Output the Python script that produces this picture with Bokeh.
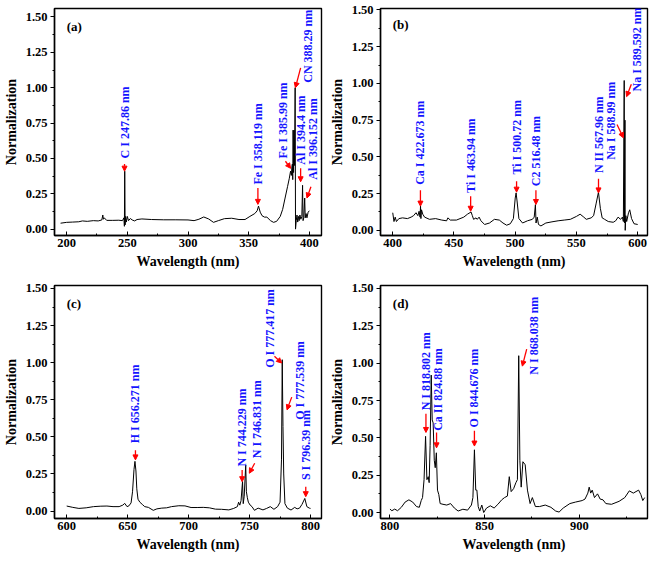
import math
from bokeh.plotting import figure
from bokeh.layouts import gridplot
from bokeh.models import (Arrow, NormalHead, SingleIntervalTicker, NumeralTickFormatter,
                          Range1d, ColumnDataSource)
from bokeh.core.properties import value
from bokeh.embed import file_html
from bokeh.resources import INLINE

# ---------------- data ----------------
wl_a = [195, 200, 205, 210, 213, 217, 222, 226, 229, 229.8, 230.3, 231, 233, 238, 243, 246,
        247.2, 247.6, 247.86, 248.2, 248.6, 249.2, 250, 251, 252.5, 254, 256, 258, 262, 270,
        280, 290, 300, 305, 309, 313, 317, 321, 325, 330, 336, 342, 347, 351, 355, 357, 358.1,
        359.5, 361, 363, 365, 368, 370.5, 373, 376, 378, 380, 382, 383.5, 384.5, 385.2, 385.6,
        386.0, 386.3, 386.6, 387.0, 387.4, 387.8, 388.29, 388.6, 389.2, 389.8, 390.4, 391,
        391.6, 392.2, 393, 393.8, 394.4, 394.8, 395.4, 396.152, 396.6, 397.3, 398, 399, 400]
int_a = [0.042, 0.048, 0.05, 0.052, 0.058, 0.055, 0.06, 0.058, 0.065, 0.10, 0.07, 0.08, 0.062,
         0.062, 0.063, 0.06, 0.08, 0.02, 0.41, 0.03, 0.09, 0.05, 0.09, 0.06, 0.075, 0.065, 0.058,
         0.068, 0.072, 0.068, 0.066, 0.066, 0.065, 0.06, 0.07, 0.086, 0.072, 0.048, 0.06, 0.074,
         0.077, 0.068, 0.068, 0.09, 0.11, 0.13, 0.163, 0.12, 0.095, 0.085, 0.085, 0.06, 0.048,
         0.055, 0.09, 0.14, 0.22, 0.30, 0.36, 0.41, 0.38, 0.44, 0.46, 0.35, 0.70, 0.40, 0.70,
         0.45, 1.0, 0.0, 0.06, 0.10, 0.05, 0.09, 0.06, 0.10, 0.07, 0.09, 0.31, 0.06, 0.08, 0.22,
         0.08, 0.11, 0.08, 0.12, 0.13]

wl_b = [400, 401, 402, 403, 405, 408, 412, 415, 417, 419, 420.5, 421.5, 422.3, 422.673, 423,
        423.5, 424.5, 426, 430, 435, 440, 444, 445, 447, 452, 458, 461, 463.94, 465, 466, 468,
        469, 470.5, 472, 475, 479, 483, 487, 490, 493, 496, 498.5, 500, 500.72, 501.5, 503, 506,
        510, 514, 515.5, 516.48, 517, 518, 519, 521, 525, 530, 535, 540, 545, 550, 553, 556,
        558, 562, 564, 566, 567.96, 569.5, 571, 573, 576, 580, 582, 584, 586, 587.5, 588.3,
        588.99, 589.2, 589.592, 589.8, 590.3, 591, 592.5, 593.5, 595, 597, 600]
int_b = [0.12, 0.06, 0.09, 0.06, 0.08, 0.085, 0.08, 0.09, 0.10, 0.12, 0.10, 0.13, 0.09, 0.165,
         0.08, 0.14, 0.11, 0.09, 0.075, 0.08, 0.07, 0.065, 0.085, 0.07, 0.07, 0.09, 0.11, 0.125,
         0.10, 0.075, 0.085, 0.075, 0.09, 0.065, 0.04, 0.05, 0.075, 0.07, 0.05, 0.035, 0.045,
         0.08, 0.22, 0.255, 0.20, 0.08, 0.05, 0.065, 0.075, 0.09, 0.175, 0.05, 0.09, 0.04, 0.03,
         0.05, 0.058, 0.065, 0.07, 0.075, 0.095, 0.11, 0.09, 0.075, 0.085, 0.10, 0.18, 0.26,
         0.15, 0.085, 0.075, 0.06, 0.055, 0.065, 0.09, 0.075, 0.09, 0.06, 1.02, 0.05, 0.75, 0.0,
         0.10, 0.06, 0.12, 0.14, 0.08, 0.045, 0.04]

wl_c = [600, 605, 610, 616, 622, 628, 633, 638, 643, 646, 647.6, 649.5, 651, 652.8, 654, 655.2,
        656.0, 656.8, 657.5, 658.5, 660, 662, 664, 667, 671, 674, 678, 682, 686, 692, 697, 702,
        707, 712, 717, 722, 727, 733, 737, 740, 741, 742, 743, 744.229, 744.8, 745.6, 746.831,
        747.4, 748.2, 749, 750.5, 752, 754, 757, 761, 764, 767, 770, 773, 775, 776.2, 776.8,
        777.4, 778, 779, 781, 784, 787, 789, 791, 793, 795.3, 797, 799, 800]
int_c = [0.034, 0.025, 0.018, 0.022, 0.03, 0.033, 0.034, 0.03, 0.03, 0.04, 0.052, 0.03, 0.035,
         0.055, 0.13, 0.28, 0.335, 0.27, 0.15, 0.08, 0.06, 0.045, 0.03, 0.025, 0.005, 0.015,
         0.02, 0.022, 0.03, 0.036, 0.035, 0.024, 0.024, 0.025, 0.022, 0.013, 0.012, 0.008, 0.018,
         0.03, 0.06, 0.04, 0.07, 0.20, 0.05, 0.10, 0.31, 0.13, 0.09, 0.06, 0.04, 0.03, 0.005,
         0.02, 0.008, 0.018, 0.03, 0.012, 0.03, 0.06, 0.35, 1.02, 0.57, 0.25, 0.05, 0.02, 0.007,
         0.025, 0.015, 0.02, 0.045, 0.085, 0.03, 0.02, 0.018]

wl_d = [800, 801, 802.5, 804, 806, 808, 810, 812, 814, 815.5, 816.5, 817.2, 818.0, 818.8, 819.5,
        820.2, 820.7, 821.2, 821.8, 822.3, 822.8, 823.4, 823.9, 824.5, 825.1, 825.8, 826.5, 828,
        830, 832, 834, 836, 838.5, 841, 843, 843.8, 844.6, 845.3, 845.9, 846.6, 847.4, 848.5,
        849.5, 851, 853, 855, 857, 859, 860.5, 862, 863, 864, 865.3, 866.5, 867.3, 868.0, 868.6,
        869.3, 870.2, 871.4, 872.6, 874, 875.2, 876.8, 879, 882, 885, 887.5, 889.3, 891.5, 895,
        898, 901.5, 903, 904.5, 905.2, 906, 906.8, 908, 909.6, 911, 912.5, 914, 917, 921, 924,
        926.4, 928.5, 931.3, 932.5, 933.5, 934.5]
int_d = [0.023, 0.012, 0.023, 0.012, 0.035, 0.07, 0.085, 0.07, 0.04, 0.035, 0.08, 0.10, 0.22,
         0.51, 0.22, 0.24, 0.20, 0.45, 0.92, 0.62, 0.60, 0.35, 0.30, 0.40, 0.15, 0.12, 0.06,
         0.055, 0.05, 0.06, 0.03, 0.01, 0.022, 0.016, 0.05, 0.10, 0.42, 0.15, 0.15, 0.04, 0.01,
         0.05, 0.0, 0.03, 0.045, 0.03, 0.055, 0.085, 0.10, 0.11, 0.24, 0.14, 0.16, 0.20, 0.22,
         1.05, 0.35, 0.17, 0.34, 0.32, 0.15, 0.06, 0.10, 0.04, 0.04, 0.05, 0.035, 0.01, 0.003,
         0.03, 0.06, 0.07, 0.08, 0.09, 0.13, 0.17, 0.13, 0.15, 0.10, 0.125, 0.09, 0.085, 0.06,
         0.055, 0.075, 0.10, 0.145, 0.13, 0.15, 0.12, 0.08, 0.10]

# annotations: (text, text_x, text_y, arrow_x0, arrow_y0, arrow_x1, arrow_y1)
notes_a = [("C I 247.86 nm", 247.7, 0.50, 247.7, 0.46, 247.7, 0.41),
           ("Fe I 358.119 nm", 357.6, 0.315, 357.6, 0.29, 357.6, 0.175),
           ("Fe I 385.99 nm", 378.0, 0.50, 380.3, 0.48, 384.5, 0.43),
           ("CN 388.29 nm", 399.2, 1.035, 392.8, 1.14, 388.5, 1.0),
           ("Al I 394.4 nm", 392.8, 0.455, 392.8, 0.43, 392.8, 0.335),
           ("Al I 396.152 nm", 402.6, 0.35, 401.3, 0.30, 398.0, 0.22)]
notes_b = [("Ca I 422.673 nm", 422.6, 0.31, 422.6, 0.273, 422.6, 0.165),
           ("Ti I 463.94 nm", 463.6, 0.255, 463.6, 0.232, 463.6, 0.13),
           ("Ti I 500.72 nm", 501.1, 0.38, 501.1, 0.335, 501.1, 0.26),
           ("C2 516.48 nm", 516.9, 0.30, 516.9, 0.273, 516.9, 0.176),
           ("N II 567.96 nm", 568.0, 0.39, 568.0, 0.352, 568.0, 0.255),
           ("Na I 588.99 nm", 578.4, 0.48, 583.1, 0.72, 588.3, 0.63),
           ("Na I 589.592 nm", 599.2, 0.945, 594.8, 0.995, 590.9, 0.91)]
notes_c = [("H I 656.271 nm", 656.4, 0.457, 656.4, 0.41, 656.4, 0.345),
           ("N I 744.229 nm", 743.9, 0.30, 743.9, 0.277, 743.9, 0.198),
           ("N I 746.831 nm", 756.2, 0.356, 754.2, 0.322, 749.8, 0.255),
           ("O I 777.417 nm", 766.5, 0.965, 770.4, 1.043, 776.3, 0.998),
           ("O I 777.539 nm", 791.0, 0.615, 784.6, 0.768, 780.7, 0.682),
           ("S I 796.39 nm", 796.1, 0.209, 796.1, 0.164, 796.1, 0.097)]
notes_d = [("N I 818.802 nm", 819.0, 0.684, 819.0, 0.661, 819.0, 0.536),
           ("Ca II 824.88 nm", 825.3, 0.547, 824.6, 0.536, 824.6, 0.433),
           ("O I 844.676 nm", 844.6, 0.57, 844.6, 0.547, 844.6, 0.445),
           ("N I 868.038 nm", 876.0, 0.923, 872.2, 1.094, 869.9, 0.98)]

panels = [
    ("(a)", 200, wl_a, int_a, notes_a, (190, 410), (-0.045, 1.56), 1.43, 275, 8),
    ("(b)", 400, wl_b, int_b, notes_b, (390, 608), (-0.035, 1.51), 1.40, 275, 8),
    ("(c)", 600, wl_c, int_c, notes_c, (590, 809), (-0.05, 1.52), 1.40, 283, 10),
    ("(d)", 801.5, wl_d, int_d, notes_d, (795, 936), (-0.04, 1.52), 1.40, 283, 10),
]

SERIF = "Liberation Serif"
figs = []
for tag, tag_x, wl, inten, notes, xr, yr, tag_y, h, btop in panels:
    p = figure(width=326, height=h, output_backend="svg", toolbar_location=None,
               x_range=Range1d(*xr), y_range=Range1d(*yr),
               min_border_left=40, min_border_right=5, min_border_top=btop, min_border_bottom=40)
    p.grid.visible = False
    p.outline_line_color = "black"
    p.outline_line_width = 1.4
    p.outline_line_alpha = 1.0

    p.xaxis.ticker = SingleIntervalTicker(interval=50, num_minor_ticks=2)
    p.yaxis.ticker = SingleIntervalTicker(interval=0.25, num_minor_ticks=2)
    p.yaxis.formatter = NumeralTickFormatter(format="0.00")
    for ax in (p.xaxis, p.yaxis):
        ax.axis_line_width = 1.4
        ax.major_label_text_font = SERIF
        ax.major_label_text_font_style = "bold"
        ax.major_label_text_font_size = "12.5px"
        ax.major_label_text_color = "black"
        ax.axis_label_text_font = SERIF
        ax.axis_label_text_font_style = "bold"
        ax.axis_label_text_font_size = "14px"
        ax.axis_label_text_color = "black"
        ax.major_label_standoff = 3
        ax.axis_label_standoff = 4
    p.xaxis.major_tick_in = 4
    p.xaxis.major_tick_out = 0
    p.xaxis.minor_tick_in = 2
    p.xaxis.minor_tick_out = 0
    p.yaxis.major_tick_in = 0
    p.yaxis.major_tick_out = 4
    p.yaxis.minor_tick_in = 0
    p.yaxis.minor_tick_out = 2
    p.xaxis.axis_label = "Wavelength (nm)"
    p.yaxis.axis_label = "Normalization"

    p.line(wl, inten, line_color="black", line_width=1.0)

    p.text(x=[tag_x], y=[tag_y], text=[tag],
           text_font=value(SERIF), text_font_style="bold", text_font_size="13px",
           text_color="black", text_baseline="middle", text_align="left")

    src = ColumnDataSource(dict(x=[n[1] for n in notes], y=[n[2] for n in notes],
                                t=[n[0] for n in notes]))
    p.text(x="x", y="y", text="t", source=src, angle=math.pi / 2,
           text_font=value(SERIF), text_font_style="bold", text_font_size="12px",
           text_color="#1414ff", text_align="left", text_baseline="middle")
    for n in notes:
        p.add_layout(Arrow(end=NormalHead(size=5, fill_color="red", line_color="red"),
                           x_start=n[3], y_start=n[4], x_end=n[5], y_end=n[6],
                           line_color="red", line_width=1.3))
    figs.append(p)

grid = gridplot([[figs[0], figs[1]], [figs[2], figs[3]]], toolbar_location=None)
open("out.html", "w").write(file_html(grid, INLINE))
